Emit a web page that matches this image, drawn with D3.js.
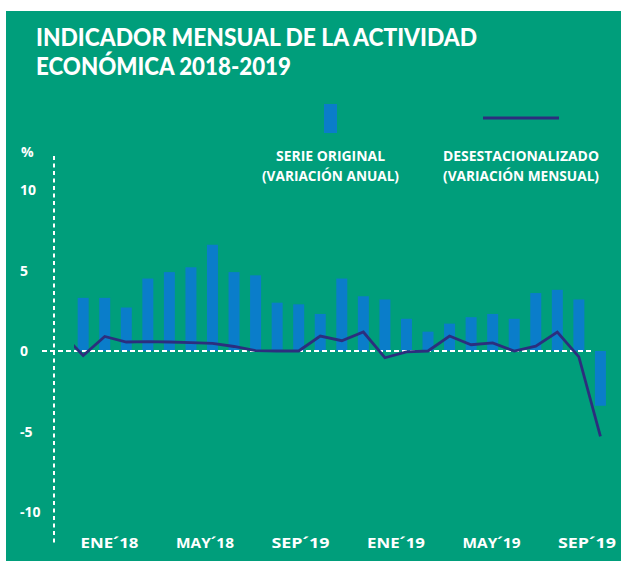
<!DOCTYPE html>
<html>
<head>
<meta charset="utf-8">
<script src="https://cdn.jsdelivr.net/npm/d3@7"></script>
<style>
  html, body { margin: 0; padding: 0; background: #ffffff; }
  svg { display: block; }
  text { font-family: "Open Sans", "DejaVu Sans", sans-serif; font-weight: 700; fill: #ffffff; }
  text.title { font-family: Lato, "Open Sans", sans-serif; font-weight: 900; }
</style>
</head>
<body>
<svg id="chart" width="621" height="562"></svg>
<script>
// Months shown as bars (Oct 2017 - Oct 2019)
const months = [
  "2017-10", "2017-11", "2017-12",
  "2018-01", "2018-02", "2018-03", "2018-04", "2018-05", "2018-06",
  "2018-07", "2018-08", "2018-09", "2018-10", "2018-11", "2018-12",
  "2019-01", "2019-02", "2019-03", "2019-04", "2019-05", "2019-06",
  "2019-07", "2019-08", "2019-09", "2019-10"
];

// Serie original, variación anual (%)
const annualChange = [
  3.3, 3.3, 2.7,
  4.5, 4.9, 5.2, 6.6, 4.9, 4.7,
  3.0, 2.9, 2.3, 4.5, 3.4, 3.2,
  2.0, 1.2, 1.7, 2.1, 2.3, 2.0,
  3.6, 3.8, 3.2, -3.4
];

// Desestacionalizado, variación mensual (%) — starts one month earlier (Sep 2017)
const lineMonths = ["2017-09"].concat(months);
const monthlyChange = [
  1.1,
  -0.28, 0.9, 0.56,
  0.58, 0.56, 0.52, 0.48, 0.28, 0.02,
  0.0, 0.0, 0.93, 0.64, 1.18, -0.42,
  -0.06, 0.0, 0.93, 0.39, 0.5, 0.0,
  0.3, 1.18, -0.37, -5.3
];

const yTicks = [10, 5, 0, -5, -10];
const xTickLabels = ["ENE´18", "MAY´18", "SEP´19", "ENE´19", "MAY´19", "SEP´19"];

const titleLines = ["INDICADOR MENSUAL DE LA ACTIVIDAD", "ECONÓMICA 2018-2019"];
const legendBars = ["SERIE ORIGINAL", "(VARIACIÓN ANUAL)"];
const legendLine = ["DESESTACIONALIZADO", "(VARIACIÓN MENSUAL)"];

const colors = {
  panel: "#009e7b",
  bar: "#0a7dca",
  line: "#2c2e7e",
  text: "#ffffff"
};

const svg = d3.select("#chart");

// Panel background
svg.append("rect")
  .attr("x", 6).attr("y", 11)
  .attr("width", 615).attr("height", 550)
  .attr("fill", colors.panel);

// Title
svg.append("g").selectAll("text")
  .data(titleLines)
  .join("text")
  .attr("class", "title")
  .attr("x", 36)
  .attr("y", (d, i) => 46 + i * 29)
  .attr("font-size", 24)
  .attr("textLength", (d, i) => i === 0 ? 441 : 255)
  .attr("lengthAdjust", "spacingAndGlyphs")
  .text(d => d);

// Scales
const x = d3.scaleBand()
  .domain(months)
  .range([72.4, 611.2])
  .paddingInner(0.49)
  .paddingOuter(0.245);

const xCenter = m => x(m) + x.bandwidth() / 2;
const xi = d3.scaleLinear()
  .domain([1, lineMonths.length - 1])
  .range([xCenter(months[0]), xCenter(months[months.length - 1])]);

const y = d3.scaleLinear()
  .domain([-10, 10])
  .range([512, 190]);

const xLabel = d3.scalePoint()
  .domain(d3.range(xTickLabels.length))
  .range([109.5, 587]);

// Bars
svg.append("g").selectAll("rect")
  .data(months.map((m, i) => ({ m, v: annualChange[i] })))
  .join("rect")
  .attr("x", d => x(d.m))
  .attr("width", x.bandwidth())
  .attr("y", d => y(Math.max(0, d.v)))
  .attr("height", d => Math.abs(y(d.v) - y(0)))
  .attr("fill", colors.bar);

// Zero reference line
svg.append("line")
  .attr("x1", 42).attr("x2", 593)
  .attr("y1", y(0)).attr("y2", y(0))
  .attr("stroke", colors.text)
  .attr("stroke-width", 2)
  .attr("stroke-dasharray", "5,3");

// Vertical dotted axis
svg.append("line")
  .attr("x1", 54).attr("x2", 54)
  .attr("y1", 156).attr("y2", 546)
  .attr("stroke", colors.text)
  .attr("stroke-width", 2)
  .attr("stroke-dasharray", "4,3.5");

// Seasonally adjusted line, clipped at the left edge of the plot
svg.append("clipPath").attr("id", "plotClip")
  .append("rect")
  .attr("x", 74).attr("y", 150)
  .attr("width", 540).attr("height", 400);

const line = d3.line()
  .x((d, i) => xi(i))
  .y(d => y(d));

svg.append("path")
  .datum(monthlyChange)
  .attr("clip-path", "url(#plotClip)")
  .attr("d", line)
  .attr("fill", "none")
  .attr("stroke", colors.line)
  .attr("stroke-width", 2.8)
  .attr("stroke-linejoin", "miter");

// Y tick labels
svg.append("g").selectAll("text")
  .data(yTicks)
  .join("text")
  .attr("x", 20)
  .attr("y", d => y(d))
  .attr("dy", "0.36em")
  .attr("font-size", 14)
  .text(d => d);

svg.append("text")
  .attr("x", 21).attr("y", 157)
  .attr("font-size", 14)
  .text("%");

// X tick labels
svg.append("g").selectAll("text")
  .data(xTickLabels)
  .join("text")
  .attr("x", (d, i) => xLabel(i))
  .attr("y", 548)
  .attr("text-anchor", "middle")
  .attr("font-size", 15)
  .attr("textLength", 58)
  .attr("lengthAdjust", "spacingAndGlyphs")
  .text(d => d);

// Legend
const legend = svg.append("g");
legend.append("rect")
  .attr("x", 324).attr("y", 104)
  .attr("width", 13).attr("height", 29)
  .attr("fill", colors.bar);
legend.append("line")
  .attr("x1", 483).attr("x2", 559)
  .attr("y1", 118).attr("y2", 118)
  .attr("stroke", colors.line)
  .attr("stroke-width", 2.8);

legend.selectAll("text.bars")
  .data(legendBars)
  .join("text")
  .attr("class", "bars")
  .attr("x", 330.5)
  .attr("y", (d, i) => 161 + i * 19.5)
  .attr("text-anchor", "middle")
  .attr("font-size", 14)
  .attr("textLength", (d, i) => i === 0 ? 109 : 137)
  .attr("lengthAdjust", "spacingAndGlyphs")
  .text(d => d);

legend.selectAll("text.line")
  .data(legendLine)
  .join("text")
  .attr("class", "line")
  .attr("x", 521)
  .attr("y", (d, i) => 161 + i * 19.5)
  .attr("text-anchor", "middle")
  .attr("font-size", 14)
  .attr("textLength", 156)
  .attr("lengthAdjust", "spacingAndGlyphs")
  .text(d => d);
</script>
</body>
</html>
